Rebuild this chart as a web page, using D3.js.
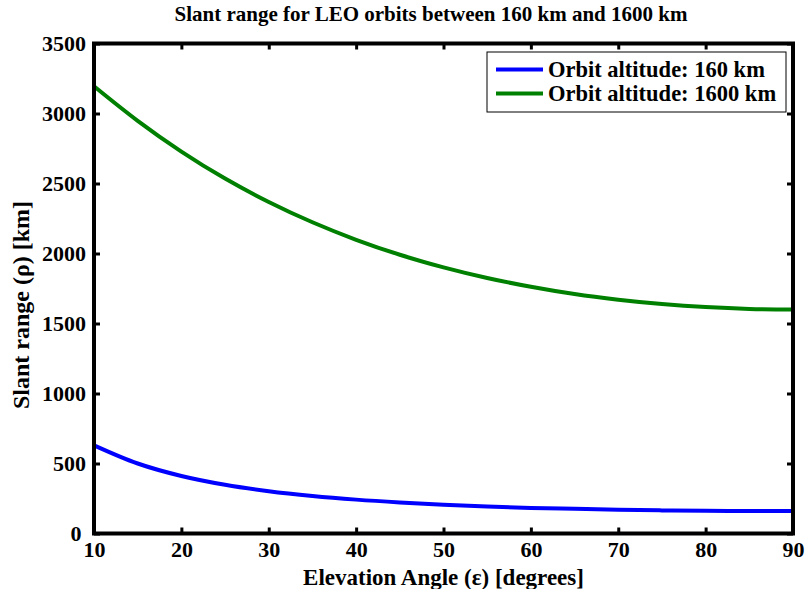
<!DOCTYPE html>
<html>
<head>
<meta charset="utf-8">
<script src="https://cdn.jsdelivr.net/npm/d3@7"></script>
<style>
  html, body { margin: 0; padding: 0; background: #fff; }
  svg { display: block; }
  text { font-family: "Liberation Serif", "Times New Roman", serif; font-weight: bold; fill: #000; }
</style>
</head>
<body>
<svg id="chart" width="806" height="589"></svg>
<script>
// ---- data ----
const elevation = [10, 15, 20, 25, 30, 35, 40, 45, 50, 55, 60, 65, 70, 75, 80, 85, 90];
const range160  = [630, 500, 411, 348, 302, 268, 242, 222, 206, 193, 183, 176, 170, 165, 162, 161, 160];
const range1600 = [3195, 2948, 2728, 2535, 2368, 2223, 2098, 1991, 1901, 1825, 1762, 1710, 1670, 1639, 1617, 1604, 1600];
const xTicks = [10, 20, 30, 40, 50, 60, 70, 80, 90];
const yTicks = [0, 500, 1000, 1500, 2000, 2500, 3000, 3500];
const seriesNames = ["Orbit altitude: 160 km", "Orbit altitude: 1600 km"];
const seriesColors = ["#0000ff", "#008000"];
const titleText = "Slant range for LEO orbits between 160 km and 1600 km";
const xLabelText = "Elevation Angle (\u03B5) [degrees]";
const yLabelText = "Slant range (\u03C1) [km]";

// ---- layout ----
const svg = d3.select("#chart");
const L = 94, R = 793, T = 43.5, B = 533.5;

const x = d3.scaleLinear().domain([10, 90]).range([L, R]);
const y = d3.scaleLinear().domain([0, 3500]).range([B, T]);

const tickLen = 6;

const xAxis = d3.axisBottom(x).tickValues(xTicks).tickSize(-tickLen).tickPadding(8).tickFormat(d3.format("d"));
const yAxis = d3.axisLeft(y).tickValues(yTicks).tickSize(-tickLen).tickPadding(8).tickFormat(d3.format("d"));
const xAxisTop = d3.axisTop(x).tickValues(xTicks).tickSize(-tickLen).tickFormat("");
const yAxisRight = d3.axisRight(y).tickValues(yTicks).tickSize(-tickLen).tickFormat("");

function styleAxis(g) {
  g.select(".domain").remove();
  g.selectAll(".tick line").attr("stroke", "#000").attr("stroke-width", 3);
  g.selectAll(".tick text").style("font-size", "22px").attr("fill", "#000");
}

const series = [range160, range1600];
const line = d3.line()
  .x((d, i) => x(elevation[i]))
  .y(d => y(d))
  .curve(d3.curveMonotoneX);

svg.append("g").selectAll("path")
  .data(series)
  .join("path")
  .attr("d", d => line(d))
  .attr("fill", "none")
  .attr("stroke", (d, i) => seriesColors[i])
  .attr("stroke-width", 4);

svg.append("g").attr("transform", `translate(0,${B})`).call(xAxis).call(styleAxis);
const gy = svg.append("g").attr("transform", `translate(${L},0)`).call(yAxis).call(styleAxis);
// keep the corner "0" clear of the x-axis "10"
gy.selectAll(".tick text").filter(d => d === 0).attr("dx", "-0.2em");
svg.append("g").attr("transform", `translate(0,${T})`).call(xAxisTop).call(styleAxis);
svg.append("g").attr("transform", `translate(${R},0)`).call(yAxisRight).call(styleAxis);

svg.append("rect")
  .attr("x", L).attr("y", T).attr("width", R - L).attr("height", B - T)
  .attr("fill", "none").attr("stroke", "#000").attr("stroke-width", 4);

// title and labels
svg.append("text").attr("x", 431).attr("y", 21)
  .attr("text-anchor", "middle").style("font-size", "21px").text(titleText);
svg.append("text").attr("x", (L + R) / 2).attr("y", 585)
  .attr("text-anchor", "middle").style("font-size", "23px").text(xLabelText);
svg.append("text")
  .attr("transform", `translate(29,305) rotate(-90)`)
  .attr("text-anchor", "middle").style("font-size", "24px").text(yLabelText);

// legend
const lg = svg.append("g");
lg.append("rect").attr("x", 487).attr("y", 52).attr("width", 299).attr("height", 60)
  .attr("fill", "#fff").attr("stroke", "#000").attr("stroke-width", 1);
seriesNames.forEach((name, i) => {
  const cy = 69.5 + i * 24;
  lg.append("line").attr("x1", 496).attr("x2", 543).attr("y1", cy).attr("y2", cy)
    .attr("stroke", seriesColors[i]).attr("stroke-width", 4);
  lg.append("text").attr("x", 548).attr("y", cy + 7).style("font-size", "22.5px").text(name);
});
</script>
</body>
</html>
